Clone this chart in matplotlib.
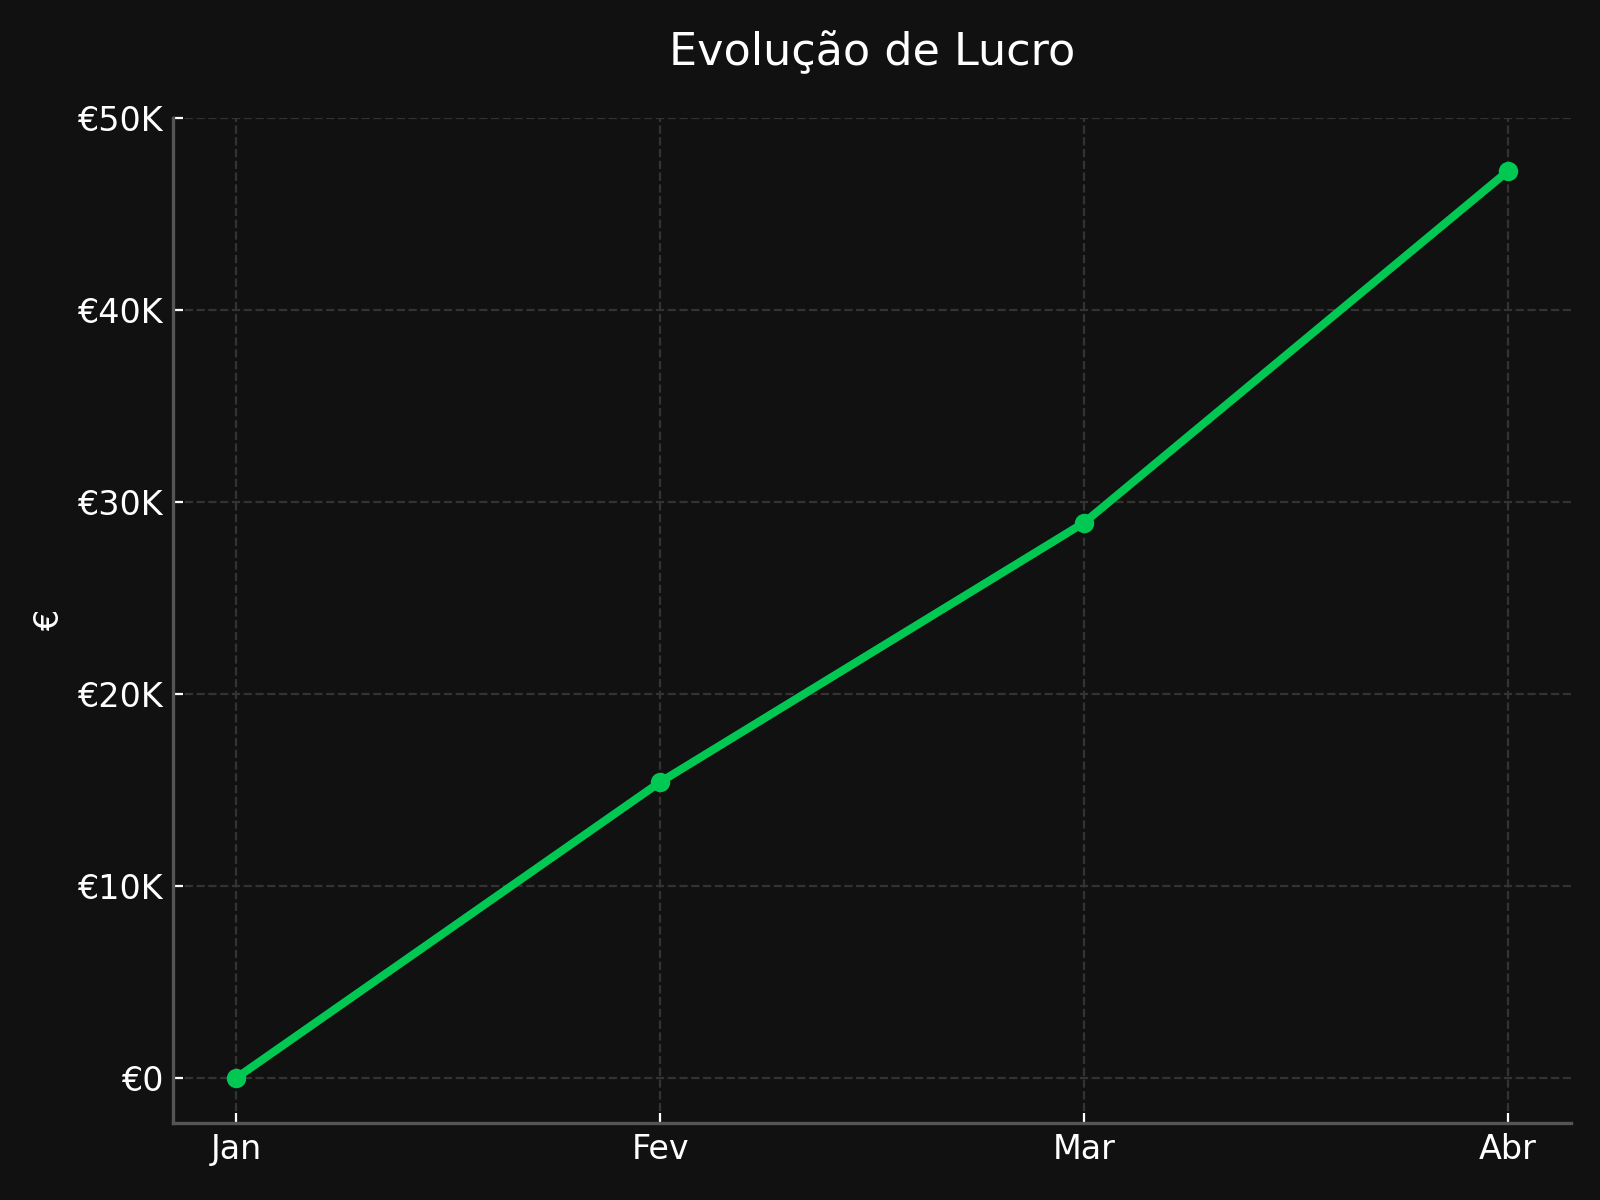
import matplotlib
matplotlib.use("Agg")
import matplotlib.pyplot as plt
from matplotlib.ticker import FuncFormatter

months = ["Jan", "Fev", "Mar", "Abr"]
profit = [0, 15400, 28900, 47200]

BG = "#111111"
fig, ax = plt.subplots(figsize=(8, 6), dpi=200)
fig.patch.set_facecolor(BG)
ax.set_facecolor(BG)

x = list(range(len(months)))
ax.plot(x, profit, color="#00C853", linewidth=2.9, marker="o", markersize=6, zorder=3)

ax.set_xticks(x)
ax.set_xticklabels(months)
ax.set_yticks([0, 10000, 20000, 30000, 40000, 50000])
ax.yaxis.set_major_formatter(FuncFormatter(lambda v, p: "€0" if v == 0 else f"€{v/1000:.0f}K"))
ax.set_ylim(top=50000)

ax.set_title("Evolução de Lucro", color="white", fontsize=16, pad=19)
ax.set_ylabel("€", color="white", fontsize=12)

ax.grid(True, linestyle="--", color="#333333", linewidth=0.8)
ax.set_axisbelow(True)
for s in ["top", "right"]:
    ax.spines[s].set_visible(False)
for s in ["left", "bottom"]:
    ax.spines[s].set_color("#555555")
    ax.spines[s].set_linewidth(1.2)
ax.tick_params(colors="white", labelsize=12, length=3.5, direction="in")

fig.subplots_adjust(left=0.108, right=0.982, bottom=0.064, top=0.902)
fig.savefig("out.png", dpi=200, facecolor=BG)
